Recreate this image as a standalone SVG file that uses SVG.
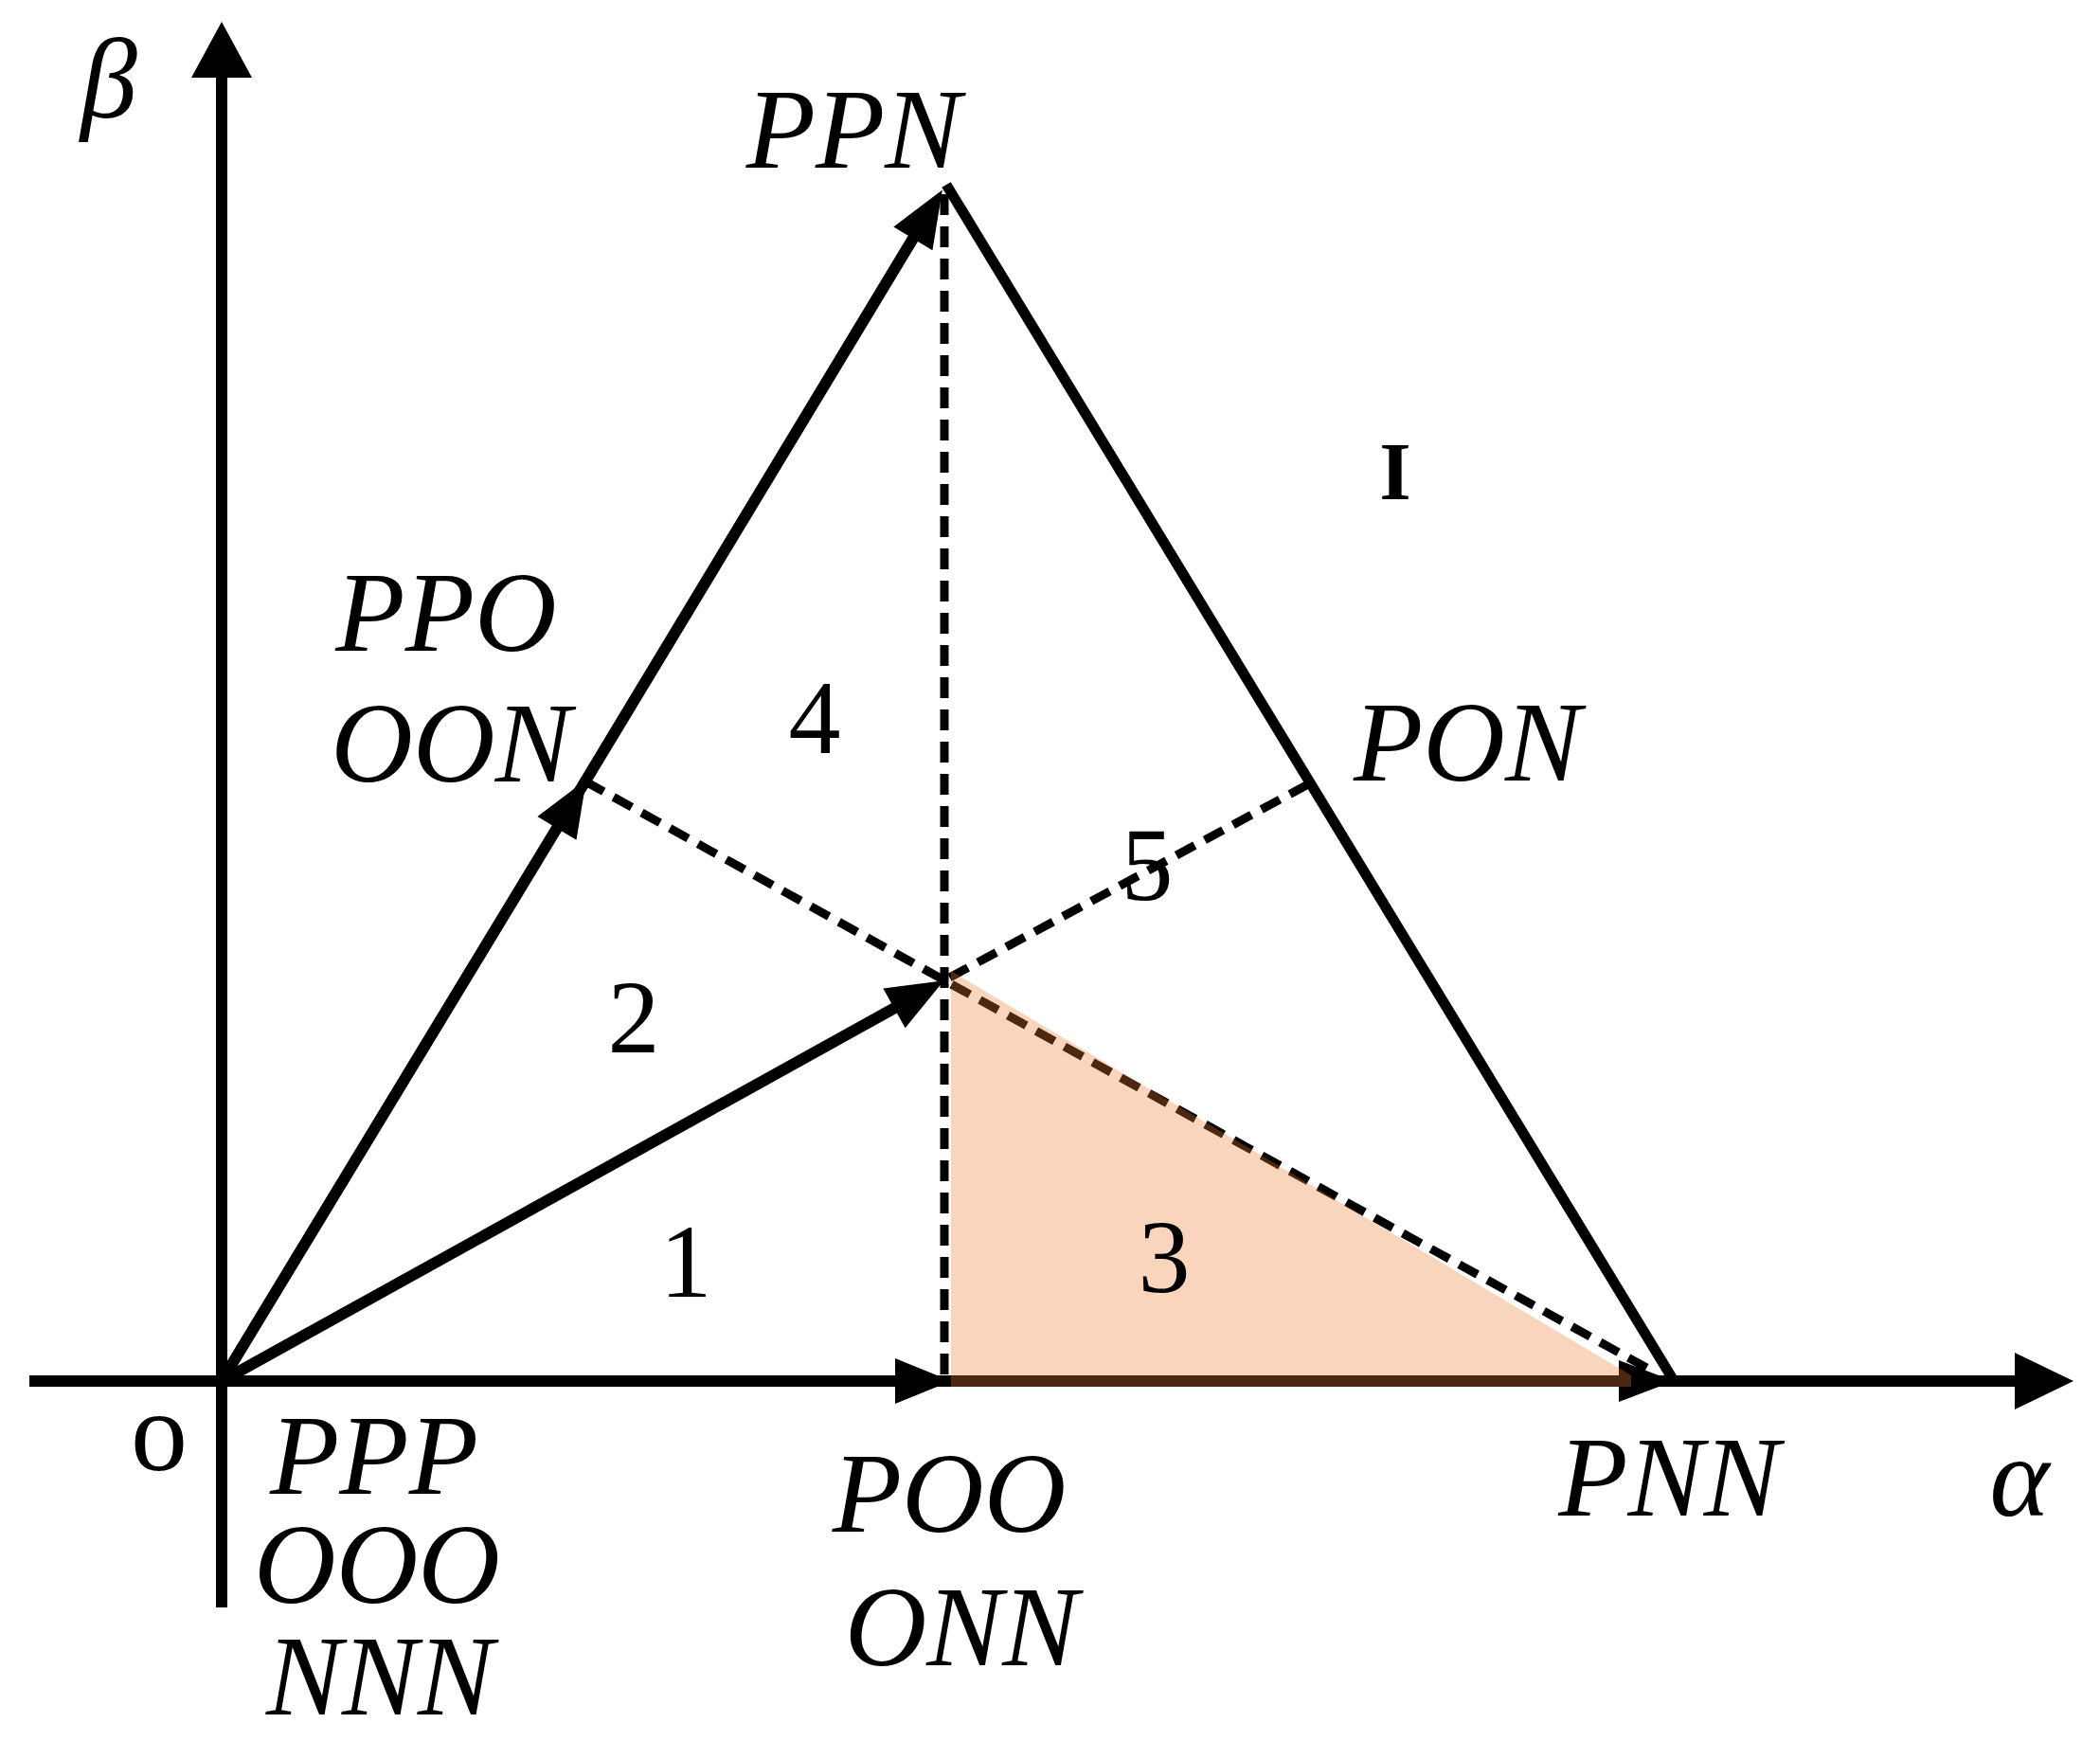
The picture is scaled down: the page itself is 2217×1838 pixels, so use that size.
<svg xmlns="http://www.w3.org/2000/svg" width="2217" height="1838" viewBox="0 0 2217 1838">
<style>
.lbl{font-family:"Liberation Serif","Times New Roman",serif;font-style:italic;font-size:120px;fill:#000;text-anchor:middle}
.num{font-family:"Liberation Serif","Times New Roman",serif;font-size:110px;fill:#000;text-anchor:middle}
.axis{stroke:#000;stroke-width:12;fill:none}
.vec{stroke:#000;stroke-width:12;fill:none}
.edge{stroke:#000;stroke-width:11;fill:none}
.dash{stroke:#000;stroke-width:9;fill:none;stroke-dasharray:22 12}
.head{fill:#000;stroke:none}
</style>
<defs>
<marker id="hEnd" markerUnits="userSpaceOnUse" orient="auto" markerWidth="80" markerHeight="60" refX="8" refY="0" viewBox="-5 -30 70 60" overflow="visible">
<path d="M0,-24 L60,0 L0,24 Z" fill="#000"/>
</marker>
<marker id="hMid" markerUnits="userSpaceOnUse" orient="auto" markerWidth="80" markerHeight="60" refX="60" refY="0" viewBox="-5 -30 70 60" overflow="visible">
<path d="M0,-24 L60,0 L0,24 Z" fill="#000"/>
</marker>
</defs>
<rect width="2217" height="1838" fill="#fff"/>
<g id="connectors">
<g id="axes">
<line class="axis" x1="31" y1="1458" x2="2132" y2="1458"/>
<polygon class="head" points="2127,1428 2189,1458 2127,1488"/>
<line class="axis" x1="234" y1="1697" x2="234" y2="78"/>
<polygon class="head" points="202,82 234,23 266,82"/>
</g>
<line class="dash" x1="997" y1="205" x2="997" y2="1452"/>
<path class="dash" d="M618,825 L997,1035 L1742,1446"/>
<line class="dash" x1="1381" y1="828" x2="997" y2="1035"/>
<line class="edge" x1="999" y1="195" x2="1766" y2="1456"/>
<path class="vec" d="M234,1458 L619,823 L968,245" marker-mid="url(#hMid)" marker-end="url(#hEnd)"/>
<line class="vec" x1="234" y1="1458" x2="951" y2="1060.5" marker-end="url(#hEnd)"/>
<polygon class="head" points="945,1434 1004,1458 945,1482"/>
<polygon class="head" points="1709,1436 1767,1458 1709,1480"/>
</g>
<polygon id="region3-fill" points="1004,1025 1722,1452 1722,1464 1004,1464" fill="#ED7D31" fill-opacity="0.32"/>
<g id="label-beta"><text class="lbl" x="115" y="124">β</text></g>
<g id="label-alpha"><text class="lbl" x="2132" y="1600">α</text></g>
<g id="label-origin"><text class="lbl" style="font-style:normal" x="168" y="1552">o</text></g>
<g id="node-PPN"><text class="lbl" x="901" y="177">PPN</text></g>
<g id="node-PPO"><text class="lbl" x="471" y="687">PPO</text><text class="lbl" x="476" y="825">OON</text></g>
<g id="node-PON"><text class="lbl" x="1549" y="824">PON</text></g>
<g id="node-PPP"><text class="lbl" x="395" y="1577">PPP</text><text class="lbl" x="398" y="1692">OOO</text><text class="lbl" x="401" y="1810">NNN</text></g>
<g id="node-POO"><text class="lbl" x="1002" y="1617">POO</text><text class="lbl" x="1015" y="1758">ONN</text></g>
<g id="node-PNN"><text class="lbl" x="1762" y="1600">PNN</text></g>
<g id="region-labels">
<text class="num" x="860" y="795">4</text>
<text class="num" x="669" y="1111">2</text>
<text class="num" x="724" y="1369">1</text>
<text class="num" x="1229" y="1364">3</text>
<text class="num" x="1211" y="950">5</text>
<text class="num" style="font-weight:bold;font-size:86px" x="1473" y="527">I</text>
</g>
</svg>
